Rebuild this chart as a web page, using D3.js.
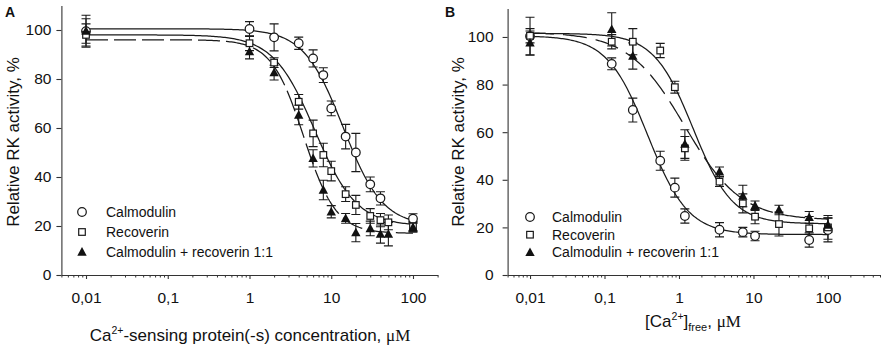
<!DOCTYPE html>
<html>
<head>
<meta charset="utf-8">
<script src="https://cdn.jsdelivr.net/npm/d3@7"></script>
<style>
  body { margin: 0; background: #fff; }
  svg text { font-family: Arial, "Liberation Sans", sans-serif; fill: #111; }
</style>
</head>
<body>
<svg width="886" height="350"></svg>
<script>
// ---- panel A: protein concentration (uM) ----
var camA_x = [0.01, 1, 2, 4, 6, 8, 10, 15, 20, 30, 40, 100];
var camA_y = [99.5, 100.4, 97, 94.6, 88.4, 81.6, 68, 56.5, 50, 37, 31.3, 23];
var camA_e = [6.5, 3, 5.5, 2.5, 3.5, 3, 3, 5, 7.8, 3, 2.7, 2];

var recA_x = [0.01, 1, 2, 4, 6, 8, 10, 15, 20, 30, 40, 50, 100];
var recA_y = [98, 94.6, 86.7, 70.7, 57.8, 49, 42.4, 33, 28.6, 24.1, 22.4, 21.5, 19.8];
var recA_e = [4.5, 3, 2, 3, 5.4, 4.8, 4, 3, 3.9, 3, 2.7, 3, 2];

var mixA_x = [0.01, 1, 2, 4, 6, 8, 10, 15, 20, 30, 40, 50, 100];
var mixA_y = [99.6, 91.2, 82.6, 65.3, 47.6, 34.7, 25.8, 23.1, 17.3, 19, 16.7, 16.7, 19.5];
var mixA_e = [5, 3, 3, 4, 3.5, 4, 2.5, 2, 3.7, 3, 3.7, 4.8, 2];

// Hill fits (calmodulin, recoverin, mix)
var fitA_top = [100.5, 98, 96];
var fitA_bottom = [20, 20, 17];
var fitA_ic50 = [14, 6.3, 4.6];
var fitA_hill = [1.8, 1.7, 2.2];

// ---- panel B: free Ca2+ (uM) ----
var camB_x = [0.01, 0.125, 0.24, 0.56, 0.88, 1.2, 3.5, 7.2, 10.5, 56, 100];
var camB_y = [100.3, 88.7, 69.3, 48, 36.7, 24.8, 19, 18, 16.4, 14.7, 18.9];
var camB_e = [8, 2.5, 5, 4, 4, 3, 3, 2, 2, 3, 5];

var recB_x = [0.01, 0.125, 0.24, 0.56, 0.88, 1.2, 3.5, 7.2, 10.5, 22, 56, 100];
var recB_y = [100.5, 98, 98, 94.3, 78.9, 53.2, 39.2, 30.1, 24.5, 21.4, 19.6, 20];
var recB_e = [3, 3, 5.5, 3, 2.5, 5, 2, 4, 3, 5, 5, 5];

var mixB_x = [0.01, 0.125, 0.24, 1.2, 3.5, 7.2, 10.5, 22, 56, 100];
var mixB_y = [97.5, 103.2, 92, 55, 43.4, 33.2, 29.1, 27.3, 24.2, 21];
var mixB_e = [5, 7, 5.5, 6, 2, 4.5, 2, 2, 2.5, 3];

var fitB_top = [100.5, 101.5, 102];
var fitB_bottom = [17, 21.5, 23];
var fitB_ic50 = [0.38, 1.55, 1.2];
var fitB_hill = [1.6, 1.65, 1.15];

var legendNames = ["Calmodulin", "Recoverin", "Calmodulin + recoverin 1:1"];
var xTickValues = [0.01, 0.1, 1, 10, 100];
var yTickValues = [0, 20, 40, 60, 80, 100];

var svg = d3.select("svg");
var ink = "#1a1a1a";

var panels = [
  { letter: "A", lx: 5, xDomain: [0.005, 200], xRange: [61.4, 437.6],
    yDomain: [0, 110], yRange: [275, 5.5], yPad: 5, dash: "22,6",
    legend: { x: 82, tx: 106, y0: 212, dy: 20 }, ytitle: 13.5,
    series: [
      { x: camA_x, y: camA_y, e: camA_e, mark: "circle" },
      { x: recA_x, y: recA_y, e: recA_e, mark: "square" },
      { x: mixA_x, y: mixA_y, e: mixA_e, mark: "triangle" }
    ],
    fit: [fitA_top, fitA_bottom, fitA_ic50, fitA_hill] },
  { letter: "B", lx: 445, xDomain: [0.005, 500], xRange: [507.6, 880],
    yDomain: [0, 112], yRange: [275, 8.4], yPad: 9, dash: "24,9",
    legend: { x: 530, tx: 552, y0: 217, dy: 17.7 }, ytitle: 458,
    series: [
      { x: camB_x, y: camB_y, e: camB_e, mark: "circle" },
      { x: recB_x, y: recB_y, e: recB_e, mark: "square" },
      { x: mixB_x, y: mixB_y, e: mixB_e, mark: "triangle" }
    ],
    fit: [fitB_top, fitB_bottom, fitB_ic50, fitB_hill] }
];

function drawMark(g, kind, cx, cy) {
  if (kind == "circle")
    g.append("circle").attr("cx", cx).attr("cy", cy).attr("r", 4.3)
      .attr("fill", "#fff").attr("stroke", ink).attr("stroke-width", 1.25);
  else if (kind == "square")
    g.append("rect").attr("x", cx - 3.3).attr("y", cy - 3.3)
      .attr("width", 6.6).attr("height", 6.6)
      .attr("fill", "#fff").attr("stroke", ink).attr("stroke-width", 1.2);
  else
    g.append("path")
      .attr("d", "M" + cx + "," + (cy - 4.9) + "L" + (cx + 4.7) + "," + (cy + 3.7) + "L" + (cx - 4.7) + "," + (cy + 3.7) + "Z")
      .attr("fill", "#111");
}

function isDecade(d) {
  var l = Math.log10(d);
  return Math.abs(l - Math.round(l)) < 1e-9;
}

panels.forEach(function(p) {
  var x = d3.scaleLog().domain(p.xDomain).range(p.xRange);
  var y = d3.scaleLinear().domain(p.yDomain).range(p.yRange);
  var g = svg.append("g");

  // axes
  var xa = g.append("g").attr("transform", "translate(0," + y(0) + ")")
    .call(d3.axisBottom(x).tickValues(xTickValues)
      .tickFormat(function(d) { return String(d).replace(".", ","); })
      .tickSize(4).tickPadding(13).tickSizeOuter(0));
  g.append("g").attr("transform", "translate(0," + y(0) + ")")
    .call(d3.axisBottom(x).tickValues(x.ticks().filter(function(d) { return !isDecade(d); }))
      .tickSize(2.5).tickFormat(""))
    .call(function(s) { s.select(".domain").remove(); });
  var ya = g.append("g").attr("transform", "translate(" + p.xRange[0] + ",0)")
    .call(d3.axisLeft(y).tickValues(yTickValues).tickSize(5).tickPadding(p.yPad).tickSizeOuter(0));

  [xa, ya].forEach(function(a) {
    a.attr("font-size", 15.5).attr("font-family", null);
    a.selectAll("path,line").attr("stroke", "#333").attr("stroke-width", 1.1);
  });
  g.selectAll(".tick line").attr("stroke", "#333");

  // fitted curves
  var grid = d3.range(-2, 2.0001, 0.02).map(function(l) { return Math.pow(10, l); });
  p.series.forEach(function(s, i) {
    var top = p.fit[0][i], bot = p.fit[1][i], ic = p.fit[2][i], n = p.fit[3][i];
    var line = d3.line()
      .x(function(c) { return x(c); })
      .y(function(c) { return y(bot + (top - bot) / (1 + Math.pow(c / ic, n))); });
    g.append("path").datum(grid).attr("d", line)
      .attr("fill", "none").attr("stroke", ink).attr("stroke-width", 1.25)
      .attr("stroke-dasharray", i == 2 ? p.dash : null);
  });

  // error bars then markers
  p.series.forEach(function(s) {
    s.x.forEach(function(c, k) {
      var cx = x(c), lo = y(s.y[k] - s.e[k]), hi = y(s.y[k] + s.e[k]);
      g.append("path")
        .attr("d", "M" + cx + "," + lo + "V" + hi +
          "M" + (cx - 4.5) + "," + lo + "H" + (cx + 4.5) +
          "M" + (cx - 4.5) + "," + hi + "H" + (cx + 4.5))
        .attr("fill", "none").attr("stroke", ink).attr("stroke-width", 1.1);
    });
  });
  p.series.forEach(function(s) {
    s.x.forEach(function(c, k) { drawMark(g, s.mark, x(c), y(s.y[k])); });
  });

  // legend
  p.series.forEach(function(s, i) {
    var ly = p.legend.y0 + i * p.legend.dy;
    drawMark(g, s.mark, p.legend.x, ly);
    g.append("text").attr("x", p.legend.tx).attr("y", ly).attr("dy", "0.35em")
      .attr("font-size", 14).text(legendNames[i]);
  });

  // y title
  g.append("text")
    .attr("transform", "translate(" + p.ytitle + ",142) rotate(-90)")
    .attr("text-anchor", "middle").attr("dy", "0.35em")
    .attr("font-size", 17).text("Relative RK activity, %");

  // panel letter
  g.append("text").attr("x", p.lx).attr("y", 17)
    .attr("font-size", 14).attr("font-weight", "bold").text(p.letter);
});

// x titles
var tA = svg.append("text").attr("x", 250).attr("y", 341)
  .attr("text-anchor", "middle").attr("font-size", 17);
tA.append("tspan").text("Ca");
tA.append("tspan").attr("font-size", 10.5).attr("dy", -7).text("2+");
tA.append("tspan").attr("dy", 7).text("-sensing protein(-s) concentration, ");
tA.append("tspan").attr("font-family", "'Liberation Serif', 'Times New Roman', serif").text("\u03bcM");

var tB = svg.append("text").attr("x", 693).attr("y", 327)
  .attr("text-anchor", "middle").attr("font-size", 17);
tB.append("tspan").text("[Ca");
tB.append("tspan").attr("font-size", 10.5).attr("dy", -7).text("2+");
tB.append("tspan").attr("dy", 7).text("]");
tB.append("tspan").attr("font-size", 11).attr("dy", 4).text("free");
tB.append("tspan").attr("dy", -4).text(", ");
tB.append("tspan").attr("font-family", "'Liberation Serif', 'Times New Roman', serif").text("\u03bcM");
</script>
</body>
</html>
